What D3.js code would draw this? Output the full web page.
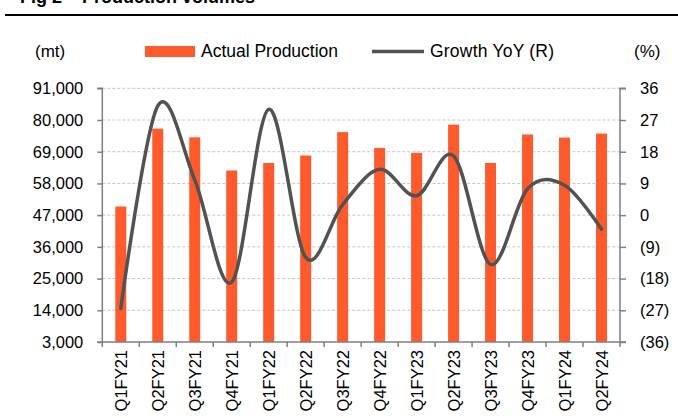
<!DOCTYPE html>
<html><head><meta charset="utf-8">
<script src="https://cdn.jsdelivr.net/npm/d3@7"></script>
<style>body{margin:0;background:#fff}svg{display:block;font-family:"Liberation Sans",Arial,sans-serif}</style>
</head><body><svg id="c" width="678" height="418"></svg>
<script>
const categories = ["Q1FY21","Q2FY21","Q3FY21","Q4FY21","Q1FY22","Q2FY22","Q3FY22","Q4FY22","Q1FY23","Q2FY23","Q3FY23","Q4FY23","Q1FY24","Q2FY24"];
const production = [50000,77000,74000,62500,65100,67700,75800,70300,68600,78400,65100,75000,73900,75300];
const growthYoY = [-26.5,31,10,-19,30,-12,3,13,5.5,16.8,-14,7.5,8.5,-4];
const leftTicks = [3000,14000,25000,36000,47000,58000,69000,80000,91000];
const rightTicks = [-36,-27,-18,-9,0,9,18,27,36];
const title = "Fig 2 – Production volumes";

const svg = d3.select("#c");
const L = 102.3, R = 620, T = 88.3, B = 342;
const x = d3.scaleBand().domain(categories).range([L, R]).paddingInner(0).paddingOuter(0);
const yL = d3.scaleLinear().domain([3000, 91000]).range([B, T]);
const yR = d3.scaleLinear().domain([-36, 36]).range([B, T]);

// title (cut off at the top, as in the reference)
svg.append("text").attr("x", 20).attr("y", 3).attr("font-size", 18).attr("font-weight", "bold").attr("fill", "#000").text(title);
svg.append("line").attr("x1", 5).attr("x2", 678).attr("y1", 15).attr("y2", 15).attr("stroke", "#000").attr("stroke-width", 2);

// gridlines
svg.append("g").selectAll("line").data(leftTicks.slice(1)).join("line")
  .attr("x1", L).attr("x2", R).attr("y1", d => yL(d)).attr("y2", d => yL(d))
  .attr("stroke", "#c4c4c4").attr("stroke-width", 1).attr("stroke-dasharray", "3,2");

// bars
const bw = 11;
svg.append("g").selectAll("rect").data(production).join("rect")
  .attr("x", (d, i) => x(categories[i]) + x.bandwidth() / 2 - bw / 2)
  .attr("width", bw)
  .attr("y", d => yL(d)).attr("height", d => B - yL(d))
  .attr("fill", "#ff5a2b");

// line
const line = d3.line().x((d, i) => x(categories[i]) + x.bandwidth() / 2).y(d => yR(d)).curve(d3.curveCardinal.tension(0));
svg.append("path").datum(growthYoY).attr("d", line).attr("fill", "none").attr("stroke", "#525252").attr("stroke-width", 3.5).attr("stroke-linecap", "round");

// axes
const axisColor = "#7f7f7f";
const fmtL = d3.format(",");
const fmtR = d => d < 0 ? "(" + Math.abs(d) + ")" : String(d);
const gL = svg.append("g").attr("transform", `translate(${L},0)`)
  .call(d3.axisLeft(yL).tickValues(leftTicks).tickFormat(fmtL).tickSize(5).tickPadding(14));
const gR = svg.append("g").attr("transform", `translate(${R},0)`)
  .call(d3.axisRight(yR).tickValues(rightTicks).tickFormat(fmtR).tickSize(6).tickPadding(14));
const gB = svg.append("g").attr("transform", `translate(0,${B})`)
  .call(d3.axisBottom(x).tickSize(5).tickFormat(""));
gB.selectAll(".tick").remove();
const edges = d3.range(categories.length + 1).map(i => L + i * x.bandwidth());
gB.selectAll("line.edge").data(edges).join("line").attr("class", "edge")
  .attr("x1", d => d).attr("x2", d => d).attr("y1", 0).attr("y2", 5).attr("stroke", axisColor).attr("stroke-width", 1.5);
gB.selectAll("text.lab").data(categories).join("text").attr("class", "lab")
  .attr("transform", d => `translate(${x(d) + x.bandwidth() / 2 + 6},${8}) rotate(-90)`)
  .attr("text-anchor", "end").attr("font-size", 16.5).attr("fill", "#000").text(d => d);

[gL, gR, gB].forEach(g => {
  g.selectAll(".domain").attr("stroke", axisColor).attr("stroke-width", 1.5);
  g.selectAll(".tick line").attr("stroke", axisColor).attr("stroke-width", 1.5);
  g.selectAll(".tick text").attr("font-size", 16.5).attr("fill", "#000").attr("font-family", "'Liberation Sans',Arial,sans-serif");
});
gR.selectAll(".domain").attr("d", `M6,${T}H0V${B}H6`);
gL.selectAll(".domain").attr("d", `M-5,${T}H0V${B}H-5`);
gB.select(".domain").attr("d", `M${L},0H${R}`);

// legend & unit labels
svg.append("text").attr("x", 35).attr("y", 57).attr("font-size", 17).text("(mt)");
svg.append("text").attr("x", 634).attr("y", 57).attr("font-size", 17).text("(%)");
svg.append("rect").attr("x", 145).attr("y", 46).attr("width", 50).attr("height", 11).attr("fill", "#ff5a2b");
svg.append("text").attr("x", 201).attr("y", 57).attr("font-size", 17.5).attr("textLength", 137).text("Actual Production");
svg.append("line").attr("x1", 372).attr("x2", 424).attr("y1", 51.5).attr("y2", 51.5).attr("stroke", "#525252").attr("stroke-width", 3.5);
svg.append("text").attr("x", 430).attr("y", 57).attr("font-size", 17.5).attr("textLength", 124).text("Growth YoY (R)");
</script></body></html>
